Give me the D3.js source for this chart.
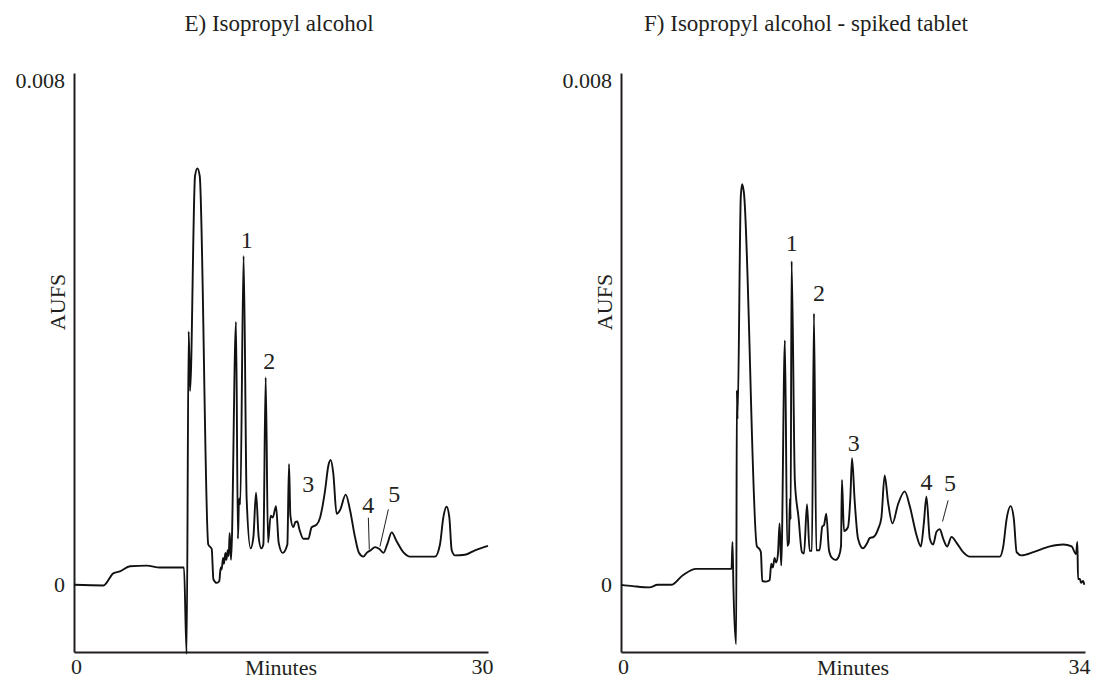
<!DOCTYPE html>
<html>
<head>
<meta charset="utf-8">
<script src="https://cdn.jsdelivr.net/npm/d3@7"></script>
<style>
  html, body { margin: 0; padding: 0; background: #fff; }
  svg { display: block; }
  text { font-family: "Liberation Serif", "Times New Roman", serif; fill: #231f20; }
</style>
</head>
<body>
<svg id="chart" width="1094" height="681"></svg>
<script>
// ---- Chromatogram E: isopropyl alcohol (0-30 min) ----
const eTime = [0, 2.13, 2.85, 3.33, 4.06, 5.27, 6.23, 7.97, 8.16, 8.31, 8.41, 8.77, 8.94, 9.11, 9.73, 9.98,
  10.10, 10.34, 10.53, 10.63, 10.70, 10.80, 10.87, 10.97, 11.04, 11.14, 11.21, 11.28, 11.38, 11.74, 11.88,
  11.96, 12.05, 12.29, 12.51, 12.80, 13.00, 13.19, 13.38, 13.57, 13.72, 13.89, 14.06, 14.25, 14.40, 14.64,
  14.83, 15.12, 15.46, 15.58, 15.68, 15.89, 16.04, 16.18, 16.33, 16.62, 16.98, 17.22, 17.58, 17.83, 18.19,
  18.43, 18.60, 18.79, 19.03, 19.28, 19.69, 20.00, 20.36, 20.65, 20.97, 21.21, 21.50, 21.81, 22.13, 22.42,
  22.71, 23.02, 23.38, 23.86, 24.35, 26.16, 26.52, 26.76, 27.00, 27.20, 27.37, 27.61, 28.33, 29.06, 30.00];
const eAUFS = [0, -0.00001, 0.00018, 0.00021, 0.00029, 0.00030, 0.00027, 0.00027, -0.00108, 0.00396, 0.00303,
  0.00639, 0.00651, 0.00639, 0.00063, 0.00056, 0.00009, 0.00003, 0.00006, 0.00027, 0.00024, 0.00042, 0.00033,
  0.00050, 0.00039, 0.00054, 0.00045, 0.00081, 0.00039, 0.00411, 0.00072, 0.00135, 0.00126, 0.00514, 0.00135,
  0.00057, 0.00075, 0.00144, 0.00075, 0.00057, 0.00063, 0.00324, 0.00066, 0.00108, 0.00105, 0.00123, 0.00066,
  0.00050, 0.00063, 0.00189, 0.00108, 0.00090, 0.00098, 0.00099, 0.00087, 0.00072, 0.00072, 0.00090, 0.00094,
  0.00105, 0.00147, 0.00186, 0.00195, 0.00174, 0.00111, 0.00117, 0.00141, 0.00117, 0.00075, 0.00050, 0.00044,
  0.00050, 0.00054, 0.00059, 0.00056, 0.00050, 0.00064, 0.00082, 0.00068, 0.00051, 0.00044, 0.00044, 0.00063,
  0.00105, 0.00122, 0.00105, 0.00054, 0.00046, 0.00047, 0.00054, 0.00061];
const ePeakNames = ["1", "2", "3", "4", "5"];
const ePeakLabelTime = [12.51, 14.15, 16.98, 21.33, 23.21];
const ePeakLabelAUFS = [0.00540, 0.00351, 0.00158, 0.00126, 0.00142];
const eLeaders = [[21.33, 0.00105, 21.40, 0.00055], [22.78, 0.00118, 22.17, 0.00060]];

// ---- Chromatogram F: isopropyl alcohol, spiked tablet (0-34 min) ----
const fTime = [0, 0.86, 2.08, 2.69, 3.67, 4.53, 5.50, 8.10, 8.17, 8.24, 8.44, 8.49, 8.54, 8.78, 8.88, 9.00,
  9.96, 10.10, 10.25, 10.35, 10.64, 10.89, 11.01, 11.13, 11.25, 11.37, 11.50, 11.62, 11.74, 12.01, 12.18,
  12.30, 12.38, 12.43, 12.50, 12.74, 13.01, 13.26, 13.41, 13.63, 13.82, 13.99, 14.14, 14.31, 14.55, 14.75,
  14.87, 15.04, 15.24, 15.46, 15.73, 15.97, 16.12, 16.19, 16.34, 16.63, 16.81, 16.93, 17.12, 17.37, 17.73,
  18.03, 18.22, 18.52, 18.84, 19.08, 19.32, 19.57, 19.89, 20.30, 20.79, 21.16, 21.65, 21.97, 22.19, 22.38,
  22.63, 22.87, 23.12, 23.36, 23.61, 23.90, 24.22, 24.58, 25.07, 25.56, 27.76, 28.01, 28.25, 28.55, 28.79,
  28.99, 29.35, 30.21, 31.43, 32.41, 33.02, 33.34, 33.44, 33.49, 33.63, 33.71, 33.86, 33.95];
const fAUFS = [0, -0.00002, -0.00004, 0, 0, 0.00015, 0.00025, 0.00025, 0.00067, -0.00006, -0.00093, 0.00304,
  0.00259, 0.00608, 0.00626, 0.00614, 0.00060, 0.00057, 0.00051, 0.00006, 0.00005, 0.00007, 0.00033, 0.00027,
  0.00042, 0.00035, 0.00048, 0.00096, 0.00030, 0.00382, 0.00061, 0.00066, 0.00135, 0.00102, 0.00506, 0.00162,
  0.00105, 0.00051, 0.00049, 0.00126, 0.00053, 0.00053, 0.00424, 0.00054, 0.00054, 0.00091, 0.00093, 0.00111,
  0.00054, 0.00042, 0.00039, 0.00045, 0.00060, 0.00164, 0.00084, 0.00090, 0.00138, 0.00198, 0.00132, 0.00072,
  0.00057, 0.00065, 0.00073, 0.00075, 0.00087, 0.00105, 0.00171, 0.00129, 0.00096, 0.00126, 0.00146, 0.00123,
  0.00078, 0.00060, 0.00096, 0.00138, 0.00072, 0.00063, 0.00083, 0.00087, 0.00072, 0.00060, 0.00075, 0.00066,
  0.00051, 0.00044, 0.00044, 0.00060, 0.00102, 0.00123, 0.00102, 0.00051, 0.00046, 0.00051, 0.00060, 0.00063,
  0.00060, 0.00048, 0.00067, 0.00009, 0.00009, 0.00003, 0.00006, 0];
const fPeakNames = ["1", "2", "3", "4", "5"];
const fPeakLabelTime = [12.52, 14.51, 17.05, 22.38, 24.10];
const fPeakLabelAUFS = [0.00535, 0.00457, 0.00223, 0.00162, 0.00159];
const fLeaders = [[23.97, 0.00132, 23.56, 0.00099]];

// shared axis ticks
const yTickValues = [0, 0.008];
const yTickLabels = ["0", "0.008"];
const yRange = [-0.00105, 0.008];

const panels = [
  { title: "E) Isopropyl alcohol", time: eTime, aufs: eAUFS, tMax: 30,
    names: ePeakNames, lt: ePeakLabelTime, lv: ePeakLabelAUFS, leaders: eLeaders,
    left: 74, right: 488, titleX: 279 },
  { title: "F) Isopropyl alcohol - spiked tablet", time: fTime, aufs: fAUFS, tMax: 34,
    names: fPeakNames, lt: fPeakLabelTime, lv: fPeakLabelAUFS, leaders: fLeaders,
    left: 621, right: 1085, titleX: 806 }
];

const svg = d3.select("#chart");
const plotTop = 73, plotBottom = 652;
const ink = "#231f20";
const titleSize = 23;
const tickSize = 22;

panels.forEach(p => {
  const x = d3.scaleLinear().domain([0, p.tMax]).range([p.left, p.right]);
  const y = d3.scaleLinear().domain(yRange).range([plotBottom, plotTop]);
  const g = svg.append("g");

  // title
  g.append("text")
    .attr("x", p.titleX).attr("y", 31)
    .attr("text-anchor", "middle")
    .style("font-size", titleSize + "px")
    .text(p.title);

  // y axis: bare line with end labels
  const yAxis = d3.axisLeft(y)
    .tickValues(yTickValues)
    .tickFormat((d, i) => yTickLabels[i])
    .tickSize(0).tickSizeOuter(0).tickPadding(9);
  const ya = g.append("g").attr("transform", `translate(${p.left},0)`).call(yAxis);
  ya.select(".domain").attr("stroke", ink).attr("stroke-width", 2);
  ya.selectAll("text").style("font-size", tickSize + "px").style("font-family", "Liberation Serif").attr("fill", ink);
  // the top label sits a little below the axis end
  ya.selectAll(".tick").filter(d => d === yTickValues[1]).select("text").attr("dy", "0.66em");

  // x axis
  const xAxis = d3.axisBottom(x)
    .tickValues([0, p.tMax])
    .tickFormat(d3.format("d"))
    .tickSize(0).tickSizeOuter(0).tickPadding(6);
  const xa = g.append("g").attr("transform", `translate(0,${plotBottom})`).call(xAxis);
  xa.select(".domain").attr("stroke", ink).attr("stroke-width", 2);
  xa.selectAll("text").style("font-size", tickSize + "px").style("font-family", "Liberation Serif").attr("fill", ink);
  xa.selectAll(".tick").filter(d => d === 0).select("text").attr("dx", "2");
  xa.selectAll(".tick").filter(d => d === p.tMax).select("text")
    .attr("text-anchor", "end").attr("dx", "5");

  // axis titles
  g.append("text")
    .attr("x", (p.left + p.right) / 2).attr("y", 675)
    .attr("text-anchor", "middle")
    .style("font-size", tickSize + "px")
    .text("Minutes");
  g.append("text")
    .attr("transform", `translate(${p.left - 9},302) rotate(-90)`)
    .attr("text-anchor", "middle")
    .style("font-size", tickSize + "px")
    .text("AUFS");

  // trace
  const pts = p.time.map((t, i) => [t, p.aufs[i]]);
  const line = d3.line()
    .x(d => x(d[0]))
    .y(d => y(d[1]))
    .curve(d3.curveMonotoneX);
  g.append("path")
    .datum(pts)
    .attr("d", line)
    .attr("fill", "none")
    .attr("stroke", "#111")
    .attr("stroke-width", 1.9)
    .attr("stroke-linejoin", "round");

  // peak numbers
  g.selectAll("text.peak")
    .data(p.names)
    .join("text")
    .attr("class", "peak")
    .attr("x", (d, i) => x(p.lt[i]))
    .attr("y", (d, i) => y(p.lv[i]))
    .attr("dy", "0.35em")
    .attr("text-anchor", "middle")
    .style("font-size", "24px")
    .text(d => d);

  // leader lines
  g.selectAll("line.leader")
    .data(p.leaders)
    .join("line")
    .attr("class", "leader")
    .attr("x1", d => x(d[0])).attr("y1", d => y(d[1]))
    .attr("x2", d => x(d[2])).attr("y2", d => y(d[3]))
    .attr("stroke", ink).attr("stroke-width", 1);
});
</script>
</body>
</html>
